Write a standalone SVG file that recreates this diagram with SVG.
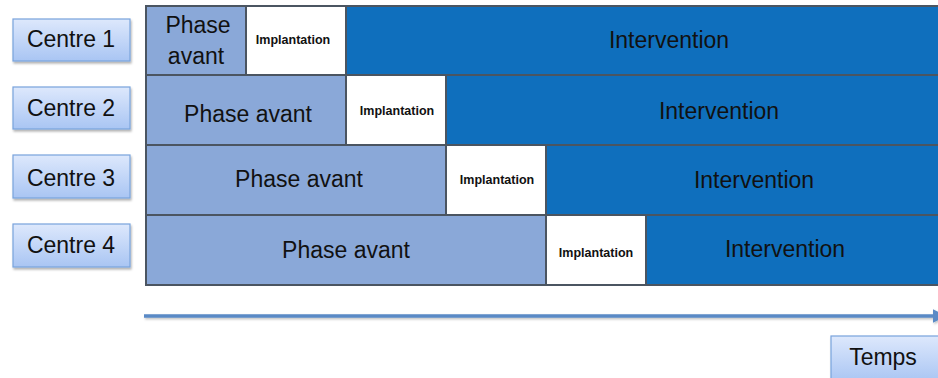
<svg xmlns="http://www.w3.org/2000/svg" width="938" height="378" viewBox="0 0 938 378">
<style>
.pa{fill:#8aa8d8;stroke:#4b5561;stroke-width:2}
.im{fill:#ffffff;stroke:#4b5561;stroke-width:2}
.iv{fill:#0f6fbd;stroke:#4b5561;stroke-width:2}
.lbl{fill:url(#g);stroke:#79a3dd;stroke-width:1.2}
text{font-family:"Liberation Sans",Arial,sans-serif;fill:#111;text-anchor:middle}
.big{font-size:23px}
.sm{font-size:12.5px;font-weight:bold}
</style>
<defs>
<linearGradient id="g" x1="0" y1="0" x2="0" y2="1">
<stop offset="0" stop-color="#dde8fc"/>
<stop offset="1" stop-color="#a9c5f3"/>
</linearGradient>
<filter id="sh" x="-10%" y="-10%" width="130%" height="140%">
<feDropShadow dx="1" dy="2" stdDeviation="1.2" flood-color="#000" flood-opacity="0.3"/>
</filter>
<filter id="lsh" filterUnits="userSpaceOnUse" x="130" y="300" width="820" height="40">
<feDropShadow dx="1" dy="1.5" stdDeviation="1" flood-color="#000" flood-opacity="0.25"/>
</filter>
<marker id="ah" markerWidth="4" markerHeight="4" refX="1" refY="2" orient="auto" markerUnits="strokeWidth">
<path d="M0,0 L4,2 L0,4 z" fill="#5a8ac6"/>
</marker>
</defs>
<g id="centre1"><rect class="lbl" x="13" y="19" width="117" height="42" filter="url(#sh)"/><text class="big" x="71" y="47">Centre 1</text></g>
<g id="centre2"><rect class="lbl" x="13" y="87" width="117" height="42" filter="url(#sh)"/><text class="big" x="71" y="116">Centre 2</text></g>
<g id="centre3"><rect class="lbl" x="13" y="155" width="117" height="43" filter="url(#sh)"/><text class="big" x="71" y="186">Centre 3</text></g>
<g id="centre4"><rect class="lbl" x="13" y="224" width="117" height="43" filter="url(#sh)"/><text class="big" x="71" y="253">Centre 4</text></g>

<g id="row1">
<rect class="iv" x="346" y="6" width="600" height="69"/>
<rect class="pa" x="146" y="6" width="100" height="69"/>
<rect class="im" x="246" y="6" width="100" height="69"/>
<text class="big" x="198" y="33">Phase</text>
<text class="big" x="196" y="64">avant</text>
<text class="sm" x="293" y="44">Implantation</text>
<text class="big" x="669" y="48">Intervention</text>
</g>
<g id="row2">
<rect class="iv" x="446" y="75" width="500" height="70"/>
<rect class="pa" x="146" y="75" width="200" height="70"/>
<rect class="im" x="346" y="75" width="100" height="70"/>
<text class="big" x="248" y="122">Phase avant</text>
<text class="sm" x="397" y="115">Implantation</text>
<text class="big" x="719" y="119">Intervention</text>
</g>
<g id="row3">
<rect class="iv" x="546" y="145" width="400" height="70"/>
<rect class="pa" x="146" y="145" width="300" height="70"/>
<rect class="im" x="446" y="145" width="100" height="70"/>
<text class="big" x="299" y="187">Phase avant</text>
<text class="sm" x="497" y="184">Implantation</text>
<text class="big" x="754" y="188">Intervention</text>
</g>
<g id="row4">
<rect class="iv" x="646" y="215" width="300" height="70"/>
<rect class="pa" x="146" y="215" width="400" height="70"/>
<rect class="im" x="546" y="215" width="100" height="70"/>
<text class="big" x="346" y="258">Phase avant</text>
<text class="sm" x="596" y="257">Implantation</text>
<text class="big" x="785" y="257">Intervention</text>
</g>

<g id="connectors" filter="url(#lsh)">
<line x1="144" y1="316" x2="936" y2="316" stroke="#5a8ac6" stroke-width="3.5" marker-end="url(#ah)"/>
</g>
<g id="temps"><rect class="lbl" x="831" y="336" width="110" height="46" filter="url(#sh)"/><text class="big" x="883" y="365">Temps</text></g>
</svg>
